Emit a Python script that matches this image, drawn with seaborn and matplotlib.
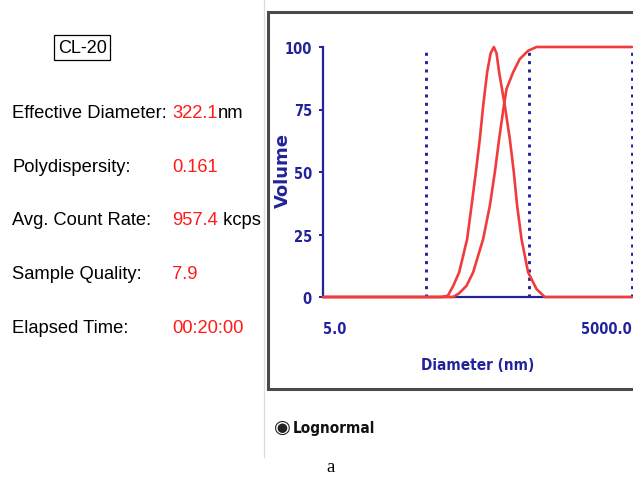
import matplotlib
matplotlib.use("Agg")
import matplotlib.pyplot as plt
from matplotlib.patches import Rectangle
from matplotlib.lines import Line2D
import seaborn as sns
import pandas as pd

# ---------------- data ----------------
sample_name = "CL-20"
info_labels = ["Effective Diameter:", "Polydispersity:", "Avg. Count Rate:",
               "Sample Quality:", "Elapsed Time:"]
info_values = ["322.1", "0.161", "957.4", "7.9", "00:20:00"]
info_units = ["nm", "", " kcps", "", ""]

dist_d = [5, 70, 81.5, 92, 105, 125.5, 138.4, 152.4, 166.6, 179.4, 196.2, 212,
          227.8, 242, 256.4, 291.3, 325.7, 356.2, 383.5, 422.9, 490, 591, 711, 5000]
dist_v = [0, 0, 0.5, 4.5, 9.9, 23.2, 36.5, 49.9, 63.2, 76.5, 89.9, 97.5,
          100, 97.5, 89.9, 76.5, 63.2, 49.9, 36.5, 23.2, 9.9, 3.2, 0, 0]

cum_d = [5, 91.8, 105, 123.8, 143.5, 179.4, 208.3, 233, 256.4, 285, 302.5,
         350.6, 407, 490, 591, 5000]
cum_v = [0, 0, 1.5, 4.5, 9.9, 23.2, 36.5, 49.9, 63.2, 76.5, 83.2,
         89.9, 95.2, 98.5, 100, 100]

cutoffs = [50, 500, 5000]
y_ticks = [0, 25, 50, 75, 100]
x_ticks = [5, 5000]
x_ticklabels = ["5.0", "5000.0"]
x_label = "Diameter (nm)"
y_label = "Volume"
fit_label = "Lognormal"
panel_letter = "a"

# ---------------- style ----------------
sns.set_theme(style="white")
plt.rcParams['font.family'] = ['Liberation Sans', 'DejaVu Sans']
plt.rcParams['lines.scale_dashes'] = False

W, H = 633, 481
fig = plt.figure(figsize=(W / 100, H / 100), dpi=100)
fig.patch.set_facecolor("white")

def fx(x):
    return x / W

def fy(y):
    return 1 - y / H

RED = "#f03c3c"
BLUE = "#22229a"
NARROW = ['DejaVu Sans']
NSTRETCH = 'condensed'
TICK_FS = 10.5

# frame of the chart panel
fig.add_artist(Line2D([fx(264), fx(264)], [fy(0), fy(458)], color="#dcdcdc",
                      lw=1, zorder=-2))
fig.add_artist(Rectangle((fx(268), fy(390)), 1.2, fy(13) - fy(390),
                         transform=fig.transFigure, facecolor="white",
                         edgecolor="#4a4a4a", lw=2.2, zorder=-1))

# main axes
ax = fig.add_axes([fx(323), fy(298), fx(632) - fx(323), fy(48) - fy(298)])
ax.set_facecolor("none")
ax.set_zorder(2)

df_dist = pd.DataFrame({"d": dist_d, "v": dist_v})
df_cum = pd.DataFrame({"d": cum_d, "v": cum_v})

for c in cutoffs:
    ax.axvline(c, ymin=0, ymax=1, color=BLUE, lw=2.1, linestyle=(0, (2.2, 3.8)),
               clip_on=False, zorder=2)

sns.lineplot(data=df_dist, x="d", y="v", ax=ax, color=RED, lw=1.9,
             estimator=None, sort=False, clip_on=False, zorder=4)
sns.lineplot(data=df_cum, x="d", y="v", ax=ax, color=RED, lw=1.9,
             estimator=None, sort=False, clip_on=False, zorder=4)

ax.set_xscale("log")
ax.set_xlim(5, 5000)
ax.set_ylim(0, 100)

for s in ["top", "right"]:
    ax.spines[s].set_visible(False)
for s in ["left", "bottom"]:
    ax.spines[s].set_visible(True)
    ax.spines[s].set_color(BLUE)
    ax.spines[s].set_linewidth(1.6)
    ax.spines[s].set_zorder(3)

ax.set_yticks(y_ticks)
ax.set_yticklabels([str(t) for t in y_ticks])
ax.set_xticks(x_ticks)
ax.set_xticklabels(x_ticklabels)
ax.xaxis.set_minor_locator(matplotlib.ticker.NullLocator())
ax.tick_params(axis="y", left=True, length=3, width=1.4, color=BLUE, pad=5,
               labelcolor=BLUE)
ax.tick_params(axis="x", bottom=False, length=0, pad=17, labelcolor=BLUE)
for lab in ax.get_yticklabels():
    lab.set_fontfamily(NARROW)
    lab.set_fontstretch(NSTRETCH)
    lab.set_fontweight("bold")
    lab.set_fontsize(TICK_FS)
for lab, ha in zip(ax.get_xticklabels(), ["left", "right"]):
    lab.set_fontfamily(NARROW)
    lab.set_fontstretch(NSTRETCH)
    lab.set_fontweight("bold")
    lab.set_fontsize(TICK_FS)
    lab.set_ha(ha)

ax.set_xlabel("")
ax.set_ylabel("")
fig.text(fx(478), fy(366), x_label, ha="center", va="center", color=BLUE,
         fontsize=11, fontweight="bold", family=NARROW, fontstretch=NSTRETCH)
fig.text(fx(283), fy(171), y_label, ha="center", va="center", color=BLUE,
         fontsize=13, fontweight="bold", rotation=90, family=['DejaVu Sans'])

# Lognormal radio option
fig.text(fx(282), fy(433), "\u25C9", ha="center", va="baseline", color="#222222",
         fontsize=14, family=['DejaVu Sans'])
fig.text(fx(293), fy(433), fit_label, ha="left", va="baseline", color="#111111",
         fontsize=11, fontweight="bold", family=NARROW, fontstretch=NSTRETCH)

# left info panel
fig.text(fx(58), fy(53), sample_name, ha="left", va="baseline", fontsize=13,
         color="black",
         bbox=dict(boxstyle="square,pad=0.2", facecolor="white",
                   edgecolor="black", lw=0.9))

baselines = [118, 172, 225, 279, 333]
for lab, val, unit, yb in zip(info_labels, info_values, info_units, baselines):
    fig.text(fx(12), fy(yb), lab, ha="left", va="baseline", fontsize=13.2,
             color="black")
    t = fig.text(fx(172), fy(yb), val, ha="left", va="baseline", fontsize=13.2,
                 color="#ff1a1a")
    if unit:
        fig.canvas.draw()
        bb = t.get_window_extent()
        fig.text(bb.x1 / W, fy(yb), unit, ha="left", va="baseline",
                 fontsize=13.2, color="black")

fig.text(fx(331), fy(472), panel_letter, ha="center", va="baseline",
         fontsize=13.5, color="black", family=['Liberation Serif', 'DejaVu Serif'])

fig.savefig("out.png", dpi=100, facecolor="white")
